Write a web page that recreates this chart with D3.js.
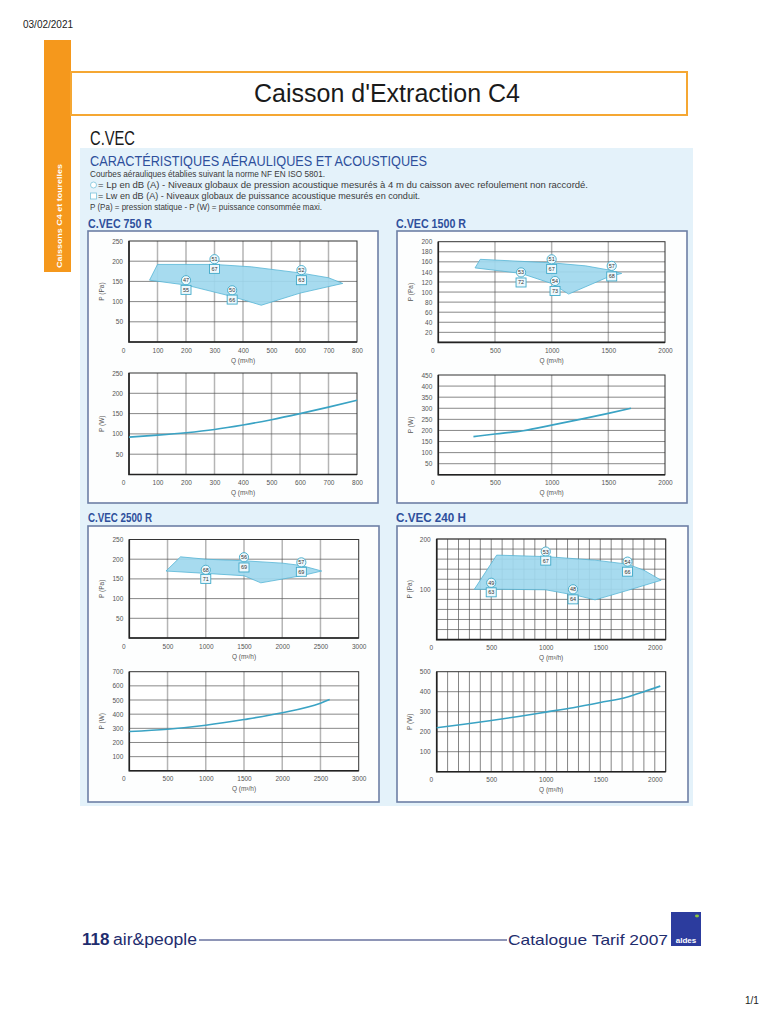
<!DOCTYPE html>
<html><head><meta charset="utf-8">
<script src="https://cdn.jsdelivr.net/npm/d3@7"></script>
<style>body{margin:0;background:#fff}svg{display:block}</style>
</head><body><svg id="c" width="768" height="1024"></svg>
<script>
// ---------------- DATA ----------------
const chartTitles = ["C.VEC 750 R", "C.VEC 1500 R", "C.VEC 2500 R", "C.VEC 240 H"];

// pressure zones (Q m3/h, P Pa)
const zone750Q  = [72, 100, 300, 430, 600, 700, 750, 600, 464, 360, 200, 72];
const zone750P  = [153, 192, 192, 186, 171, 159, 145, 121, 91, 113, 141, 153];
const zone1500Q = [324, 370, 1000, 1300, 1500, 1618, 1500, 1150, 1000, 730, 324];
const zone1500P = [148, 165, 158, 152, 144, 137, 130, 96, 117, 137, 148];
const zone2500Q = [480, 670, 1000, 1500, 2000, 2250, 2516, 2250, 1720, 1500, 1000, 480];
const zone2500P = [170, 206, 200, 196, 190, 184, 170, 158, 140, 158, 164, 170];
const zone240Q  = [345, 550, 1000, 1450, 1750, 1900, 2058, 1800, 1452, 1300, 1000, 600, 345];
const zone240P  = [100, 168, 165, 158, 150, 138, 118, 101, 79, 87, 99, 100, 100];

// acoustic labels: Q position, circle (Lp) and square (Lw)
const lab750Q = [200, 300, 362, 605];
const lab750CircleP = [153, 205, 128, 178];
const lab750Circle = ["47", "51", "50", "52"];
const lab750SquareP = [129, 181, 105, 153];
const lab750Square = ["55", "67", "66", "63"];

const lab1500Q = [730, 1000, 1030, 1530];
const lab1500CircleP = [139, 165, 122, 152];
const lab1500Circle = ["53", "51", "54", "57"];
const lab1500SquareP = [119, 146, 102, 131];
const lab1500Square = ["72", "67", "73", "68"];

const lab2500Q = [1000, 1500, 2250];
const lab2500CircleP = [173, 205, 192];
const lab2500Circle = ["68", "56", "57"];
const lab2500SquareP = [150, 179, 168];
const lab2500Square = ["71", "69", "69"];

const lab240Q = [500, 1000, 1250, 1750];
const lab240CircleP = [113, 175, 100, 155];
const lab240Circle = ["49", "53", "48", "54"];
const lab240SquareP = [94, 157, 80, 135];
const lab240Square = ["63", "67", "64", "66"];

// power curves (Q m3/h, P W)
const pow750Q  = [0, 100, 200, 300, 400, 500, 600, 700, 800];
const pow750P  = [92, 97, 103, 111, 122, 135, 150, 166, 183];
const pow1500Q = [310, 500, 750, 1000, 1250, 1500, 1700];
const pow1500P = [172, 184, 199, 224, 250, 277, 300];
const pow2500Q = [0, 500, 1000, 1500, 2000, 2500, 2620];
const pow2500P = [278, 294, 322, 362, 410, 478, 503];
const pow240Q  = [0, 250, 500, 750, 1000, 1250, 1500, 1750, 1900, 2050];
const pow240P  = [220, 237, 256, 276, 298, 320, 346, 374, 400, 428];

// tick values
const ticks750Q = [0, 100, 200, 300, 400, 500, 600, 700, 800];
const ticks750Pa = [50, 100, 150, 200, 250];
const ticks750W = [50, 100, 150, 200, 250];
const ticks1500Q = [0, 500, 1000, 1500, 2000];
const ticks1500Pa = [20, 40, 60, 80, 100, 120, 140, 160, 180, 200];
const ticks1500W = [50, 100, 150, 200, 250, 300, 350, 400, 450];
const ticks2500Q = [0, 500, 1000, 1500, 2000, 2500, 3000];
const ticks2500Pa = [50, 100, 150, 200, 250];
const ticks2500W = [100, 200, 300, 400, 500, 600, 700];
const ticks240Q = [0, 500, 1000, 1500, 2000];
const ticks240Pa = [100, 200];
const ticks240W = [100, 200, 300, 400, 500];
const grid240Q = d3.range(0, 2101, 100);
const grid240Pa = d3.range(0, 201, 20);

// ---------------- DRAWING ----------------
const svg = d3.select("#c");
const FONT = "'Liberation Sans', Arial, sans-serif";
const NARROW = "'Liberation Sans Narrow', 'Liberation Sans', Arial, sans-serif";
const BLUE_T = "#2e4f9c";
const TEAL = "#3aa3c4";

// date & page number
svg.append("text").attr("x", 23).attr("y", 28).attr("font-family", FONT).attr("font-size", 10).attr("fill", "#222").text("03/02/2021");
svg.append("text").attr("x", 745).attr("y", 1004).attr("font-family", FONT).attr("font-size", 10).attr("fill", "#222").text("1/1");

// orange side bar
svg.append("rect").attr("x", 44).attr("y", 40).attr("width", 27).attr("height", 232).attr("fill", "#f5981c");
svg.append("text").attr("transform", "translate(62,268) rotate(-90)").attr("font-family", FONT).attr("font-size", 8).attr("font-weight", "bold").attr("fill", "#fff").attr("textLength", 104).attr("lengthAdjust", "spacingAndGlyphs").text("Caissons C4 et tourelles");

// title box
svg.append("rect").attr("x", 71).attr("y", 72).attr("width", 616).attr("height", 43).attr("fill", "#fff").attr("stroke", "#f5a733").attr("stroke-width", 2);
svg.append("text").attr("x", 387).attr("y", 102).attr("text-anchor", "middle").attr("font-family", NARROW).attr("font-size", 26).attr("fill", "#1a1a1a").attr("textLength", 266).attr("lengthAdjust", "spacingAndGlyphs").text("Caisson d'Extraction C4");
svg.append("text").attr("x", 90).attr("y", 145).attr("font-family", NARROW).attr("font-size", 21).attr("fill", "#1a1a1a").attr("textLength", 45).attr("lengthAdjust", "spacingAndGlyphs").text("C.VEC");

// blue panel
svg.append("rect").attr("x", 80).attr("y", 148).attr("width", 613).attr("height", 658).attr("fill", "#e4f2fa");
svg.append("text").attr("x", 90).attr("y", 166).attr("font-family", FONT).attr("font-size", 14).attr("fill", BLUE_T).attr("textLength", 337).attr("lengthAdjust", "spacingAndGlyphs").text("CARACTÉRISTIQUES AÉRAULIQUES ET ACOUSTIQUES");
const infoLines = [
  ["Courbes aérauliques établies suivant la norme NF EN ISO 5801.", 90, 235],
  ["= Lp en dB (A) - Niveaux globaux de pression acoustique mesurés à 4 m du caisson avec refoulement non raccordé.", 98, 490],
  ["= Lw en dB (A) - Niveaux globaux de puissance acoustique mesurés en conduit.", 98, 322],
  ["P (Pa) = pression statique - P (W) = puissance consommée maxi.", 90, 232]
];
infoLines.forEach((l, i) => {
  svg.append("text").attr("x", l[1]).attr("y", 177 + i * 11).attr("font-family", FONT).attr("font-size", 9).attr("fill", "#3a3a3a")
    .attr("textLength", l[2]).attr("lengthAdjust", "spacingAndGlyphs").text(l[0]);
});
svg.append("circle").attr("cx", 93.5).attr("cy", 185).attr("r", 3).attr("fill", "#fff").attr("stroke", "#7cc4dc").attr("stroke-width", 0.8);
svg.append("rect").attr("x", 90.5).attr("y", 193).attr("width", 6).attr("height", 6).attr("fill", "#fff").attr("stroke", "#7cc4dc").attr("stroke-width", 0.8);

// chart frames and titles
const frames = [[88, 231, 290, 272], [397, 231, 290, 272], [88, 526, 291, 276], [397, 526, 291, 276]];
const titlePos = [[88, 228], [396, 228], [88, 522], [396, 522]];
frames.forEach((f, i) => {
  svg.append("rect").attr("x", f[0]).attr("y", f[1]).attr("width", f[2]).attr("height", f[3]).attr("fill", "#fdfefe").attr("stroke", "#6d7fa6").attr("stroke-width", 1.6);
  svg.append("text").attr("x", titlePos[i][0]).attr("y", titlePos[i][1]).attr("font-family", NARROW).attr("font-weight", "bold").attr("font-size", 13).attr("fill", BLUE_T)
    .attr("textLength", i % 2 ? 70 : 64).attr("lengthAdjust", "spacingAndGlyphs").text(chartTitles[i]);
});

function plot(c) {
  const x = d3.scaleLinear().domain(c.xDom).range([c.left, c.right]);
  const y = d3.scaleLinear().domain(c.yDom).range([c.bottom, c.top]);
  const g = svg.append("g");
  g.append("rect").attr("x", c.left).attr("y", c.top).attr("width", c.right - c.left).attr("height", c.bottom - c.top).attr("fill", "#fff");
  g.selectAll(".vg").data(c.xGrid).join("line")
    .attr("x1", d => x(d)).attr("x2", d => x(d)).attr("y1", c.top).attr("y2", c.bottom)
    .attr("stroke", c.vColor || "#b5b5b5").attr("stroke-width", c.vWidth || 1.5);
  g.selectAll(".hg").data(c.yGrid).join("line")
    .attr("y1", d => y(d)).attr("y2", d => y(d)).attr("x1", c.left).attr("x2", c.right)
    .attr("stroke", c.hColor || "#555").attr("stroke-width", c.hWidth || 0.7);
  g.append("rect").attr("x", c.left).attr("y", c.top).attr("width", c.right - c.left).attr("height", c.bottom - c.top)
    .attr("fill", "none").attr("stroke", "#333").attr("stroke-width", 1);
  g.append("path").attr("d", `M${c.left},${c.top}V${c.bottom}H${c.right}`).attr("fill", "none").attr("stroke", "#222").attr("stroke-width", 1.6);

  if (c.zoneQ) {
    const pts = c.zoneQ.map((q, i) => [x(q), y(c.zoneP[i])]);
    g.append("path").attr("d", d3.line().curve(d3.curveLinearClosed)(pts))
      .attr("fill", "#a0d8ee").attr("fill-opacity", 0.92).attr("stroke", "#55b5d6").attr("stroke-width", 0.8);
  }
  if (c.powQ) {
    const pts = c.powQ.map((q, i) => [x(q), y(c.powP[i])]);
    g.append("path").attr("d", d3.line().curve(d3.curveMonotoneX)(pts))
      .attr("fill", "none").attr("stroke", TEAL).attr("stroke-width", 1.6);
  }
  // axes
  const ax = g.append("g").attr("transform", `translate(0,${c.bottom})`)
    .call(d3.axisBottom(x).tickValues(c.xTicks).tickSize(0).tickPadding(6).tickFormat(d3.format("d")));
  const ay = g.append("g").attr("transform", `translate(${c.left},0)`)
    .call(d3.axisLeft(y).tickValues(c.yTicks).tickSize(0).tickPadding(6).tickFormat(d3.format("d")));
  [ax, ay].forEach(a => {
    a.select(".domain").remove();
    a.selectAll("text").attr("font-family", FONT).attr("font-size", 6.5).attr("fill", "#555");
  });
  ax.selectAll(".tick").filter(d => d === 0).select("text").attr("dx", -6);
  g.append("text").attr("x", (c.left + c.right) / 2).attr("y", c.bottom + 20.5).attr("text-anchor", "middle")
    .attr("font-family", FONT).attr("font-size", 6.5).attr("fill", "#555").text("Q (m³/h)");
  g.append("text").attr("transform", `translate(${c.left - 25},${(c.top + c.bottom) / 2}) rotate(-90)`).attr("text-anchor", "middle")
    .attr("font-family", FONT).attr("font-size", 6.5).attr("fill", "#555").text(c.yLabel);

  if (c.labQ) {
    c.labQ.forEach((q, i) => {
      const cx = x(q);
      const cy = y(c.labCP[i]);
      g.append("circle").attr("cx", cx).attr("cy", cy).attr("r", 4.6).attr("fill", "#eef8fc").attr("stroke", "#3fa9c9").attr("stroke-width", 0.9);
      g.append("text").attr("x", cx).attr("y", cy + 2).attr("text-anchor", "middle").attr("font-family", FONT).attr("font-size", 5.5).attr("fill", "#333").text(c.labC[i]);
      const sy = y(c.labSP[i]);
      g.append("rect").attr("x", cx - 5).attr("y", sy - 4.5).attr("width", 10).attr("height", 9).attr("fill", "#eef8fc").attr("stroke", "#3fa9c9").attr("stroke-width", 0.9);
      g.append("text").attr("x", cx).attr("y", sy + 2).attr("text-anchor", "middle").attr("font-family", FONT).attr("font-size", 5.5).attr("fill", "#333").text(c.labS[i]);
    });
  }
}

// C.VEC 750 R
plot({ xDom: [0, 800], yDom: [0, 250], left: 129, right: 357, top: 241, bottom: 342,
  xGrid: d3.range(100, 800, 100), yGrid: [50, 100, 150, 200], xTicks: ticks750Q, yTicks: ticks750Pa, yLabel: "P (Pa)",
  zoneQ: zone750Q, zoneP: zone750P, labQ: lab750Q, labCP: lab750CircleP, labC: lab750Circle, labSP: lab750SquareP, labS: lab750Square });
plot({ xDom: [0, 800], yDom: [0, 250], left: 129, right: 357, top: 373, bottom: 474.5,
  xGrid: d3.range(100, 800, 100), yGrid: [50, 100, 150, 200], xTicks: ticks750Q, yTicks: ticks750W, yLabel: "P (W)",
  powQ: pow750Q, powP: pow750P });
// C.VEC 1500 R
plot({ xDom: [0, 2000], yDom: [0, 200], left: 438.3, right: 665, top: 241.7, bottom: 342.4,
  xGrid: [500, 1000, 1500], yGrid: d3.range(20, 200, 20), xTicks: ticks1500Q, yTicks: ticks1500Pa, yLabel: "P (Pa)",
  zoneQ: zone1500Q, zoneP: zone1500P, labQ: lab1500Q, labCP: lab1500CircleP, labC: lab1500Circle, labSP: lab1500SquareP, labS: lab1500Square });
plot({ xDom: [0, 2000], yDom: [0, 450], left: 438.3, right: 665, top: 375, bottom: 474.8,
  xGrid: [500, 1000, 1500], yGrid: d3.range(50, 450, 50), xTicks: ticks1500Q, yTicks: ticks1500W, yLabel: "P (W)",
  powQ: pow1500Q, powP: pow1500P });
// C.VEC 2500 R
plot({ xDom: [0, 3000], yDom: [0, 250], left: 129.3, right: 358.7, top: 539.5, bottom: 638,
  xGrid: d3.range(500, 3000, 500), yGrid: [50, 100, 150, 200], xTicks: ticks2500Q, yTicks: ticks2500Pa, yLabel: "P (Pa)",
  zoneQ: zone2500Q, zoneP: zone2500P, labQ: lab2500Q, labCP: lab2500CircleP, labC: lab2500Circle, labSP: lab2500SquareP, labS: lab2500Square });
plot({ xDom: [0, 3000], yDom: [0, 700], left: 129.3, right: 358.7, top: 671.7, bottom: 770.8,
  xGrid: d3.range(500, 3000, 500), yGrid: d3.range(100, 700, 100), xTicks: ticks2500Q, yTicks: ticks2500W, yLabel: "P (W)",
  powQ: pow2500Q, powP: pow2500P });
// C.VEC 240 H
plot({ xDom: [0, 2100], yDom: [0, 200], left: 436.7, right: 665.7, top: 539, bottom: 639.6,
  xGrid: grid240Q, yGrid: grid240Pa, vColor: "#666", vWidth: 0.8, hColor: "#555", hWidth: 0.7,
  xTicks: ticks240Q, yTicks: ticks240Pa, yLabel: "P (Pa)",
  zoneQ: zone240Q, zoneP: zone240P, labQ: lab240Q, labCP: lab240CircleP, labC: lab240Circle, labSP: lab240SquareP, labS: lab240Square });
plot({ xDom: [0, 2100], yDom: [0, 500], left: 436.7, right: 665.7, top: 671.7, bottom: 771.7,
  xGrid: grid240Q, yGrid: d3.range(100, 500, 100), vColor: "#666", vWidth: 0.8, hColor: "#555", hWidth: 0.7,
  xTicks: ticks240Q, yTicks: ticks240W, yLabel: "P (W)",
  powQ: pow240Q, powP: pow240P });

// footer
const NAVY = "#1f2d6e";
svg.append("text").attr("x", 82).attr("y", 945).attr("font-family", FONT).attr("font-weight", "bold").attr("font-size", 17).attr("fill", NAVY).text("118");
svg.append("text").attr("x", 113).attr("y", 945).attr("font-family", FONT).attr("font-size", 16).attr("fill", NAVY).attr("textLength", 84).attr("lengthAdjust", "spacingAndGlyphs").text("air&people");
svg.append("line").attr("x1", 199).attr("x2", 507).attr("y1", 940).attr("y2", 940).attr("stroke", NAVY).attr("stroke-width", 1);
svg.append("text").attr("x", 508).attr("y", 945).attr("font-family", FONT).attr("font-size", 15).attr("fill", NAVY).attr("textLength", 160).attr("lengthAdjust", "spacingAndGlyphs").text("Catalogue Tarif 2007");
svg.append("rect").attr("x", 671).attr("y", 912).attr("width", 30).attr("height", 34).attr("fill", "#2c3c9e");
svg.append("ellipse").attr("cx", 697).attr("cy", 916).attr("rx", 2).attr("ry", 1.4).attr("fill", "#8cc63f");
svg.append("text").attr("x", 686).attr("y", 943).attr("text-anchor", "middle").attr("font-family", FONT).attr("font-weight", "bold").attr("font-size", 8).attr("fill", "#fff").text("aldes");
</script></body></html>
